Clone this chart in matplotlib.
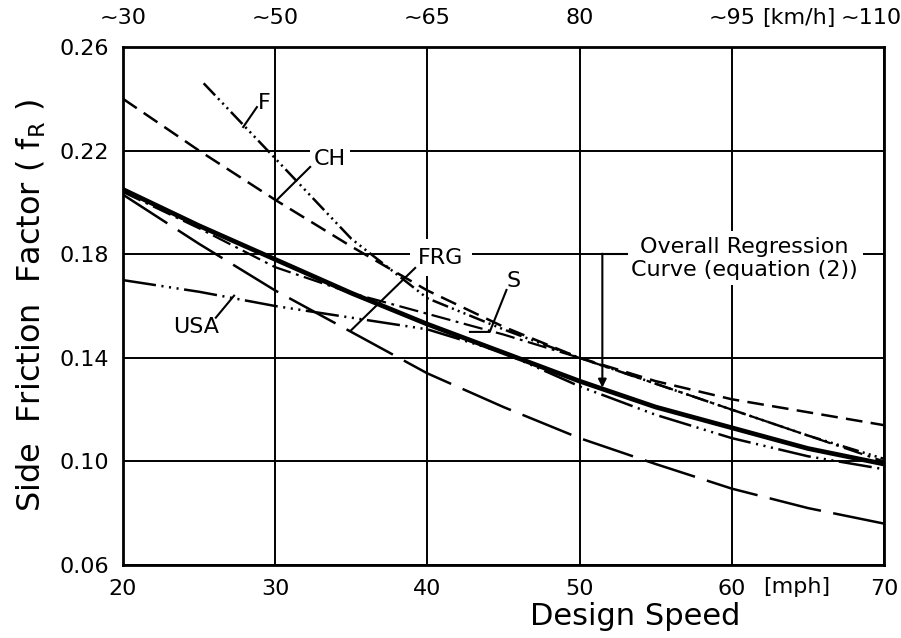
"""
Side friction factor against design speed: national design curves and
the overall regression curve (equation (2)).
"""

import matplotlib
matplotlib.use('Agg')
from matplotlib import pyplot as plt

# Data
speed = [20, 25, 30, 35, 40, 45, 50, 55, 60, 65, 70]
regression = [0.205, 0.191, 0.178, 0.165, 0.153, 0.142, 0.131, 0.121, 0.113, 0.105, 0.099]
ch = [0.240, 0.220, 0.201, 0.183, 0.166, 0.152, 0.140, 0.131, 0.124, 0.119, 0.114]
s_curve = [0.204, 0.190, 0.175, 0.165, 0.157, 0.149, 0.140, 0.130, 0.120, 0.110, 0.100]
usa = [0.170, 0.1655, 0.160, 0.1555, 0.151, 0.142, 0.129, 0.118, 0.109, 0.102, 0.097]
frg = [0.203, 0.184, 0.166, 0.150, 0.134, 0.121, 0.109, 0.099, 0.0895, 0.082, 0.076]
speed_f = [25.3, 30, 35, 40, 45, 50, 55, 60, 65, 70]
f_curve = [0.246, 0.217, 0.186, 0.163, 0.151, 0.140, 0.130, 0.120, 0.110, 0.101]

mph_ticks = [20, 30, 40, 50, 60, 70]
y_ticks = [0.06, 0.10, 0.14, 0.18, 0.22, 0.26]
kmh_labels = ['~30', '~50', '~65', '80', '~95', '~110']
kmh_pos = [20, 30, 40, 50, 60, 69.15]

plt.rcParams['lines.scale_dashes'] = False
plt.rcParams['font.family'] = ['DejaVu Sans']

fig = plt.figure(figsize=(9.01, 6.38), dpi=100)
ax = fig.add_axes([0.1365, 0.1144, 0.8445, 0.8119])

ax.plot(speed, regression, color='black', lw=3.4, solid_capstyle='butt', zorder=3)
ax.plot(speed, ch, color='black', lw=1.8, dashes=(12, 6), zorder=3)
ax.plot(speed_f, f_curve, color='black', lw=1.8, dashes=(12, 3, 1.5, 3, 1.5, 3, 1.5, 3), zorder=3)
ax.plot(speed, s_curve, color='black', lw=1.6, dashes=(14, 4, 2, 4), zorder=3)
ax.plot(speed, usa, color='black', lw=1.8, dashes=(24, 4, 1.5, 4, 1.5, 4, 1.5, 4), zorder=3)
ax.plot(speed, frg, color='black', lw=1.8, dashes=(38, 9), zorder=3)

ax.set_xlim(20, 70)
ax.set_ylim(0.06, 0.26)
ax.set_xticks(mph_ticks)
ax.set_yticks(y_ticks)
ax.set_yticklabels([f'{v:.2f}' for v in y_ticks])
ax.grid(True, color='black', lw=1.4)
ax.set_axisbelow(True)
for sp in ax.spines.values():
    sp.set_linewidth(2)
ax.tick_params(length=0, labelsize=16, pad=10)

# km/h equivalents along the top
for xp, lab in zip(kmh_pos, kmh_labels):
    ax.text(xp, 0.2712, lab, fontsize=16, ha='center', va='center', clip_on=False)
ax.text(64.4, 0.2712, '[km/h]', fontsize=16, ha='center', va='center', clip_on=False)
ax.text(64.3, 0.0515, '[mph]', fontsize=16, ha='center', va='center', clip_on=False)

ax.set_xlabel('Design Speed', fontsize=22)
ax.xaxis.set_label_coords(0.673, -0.072)
ax.set_ylabel('Side  Friction  Factor ( f$_\\mathregular{R}$ )', fontsize=23, labelpad=8)

# Curve labels with leader lines
box = dict(facecolor='white', edgecolor='none', pad=3)
ax.text(29.3, 0.2384, 'F', fontsize=16, ha='center', va='center', zorder=4)
ax.plot([28.8, 27.9], [0.2368, 0.2291], color='black', lw=1.5, zorder=5)

ax.text(33.6, 0.2167, 'CH', fontsize=16, ha='center', va='center', bbox=box, zorder=4)
ax.plot([32.3, 30.1], [0.2137, 0.2009], color='black', lw=1.5, zorder=5)

ax.text(40.9, 0.1787, 'FRG', fontsize=16, ha='center', va='center',
        bbox=dict(facecolor='white', edgecolor='none', pad=6), zorder=4)
ax.plot([39.2, 35.0], [0.1747, 0.1507], color='black', lw=1.5, zorder=5)

ax.text(45.65, 0.1697, 'S', fontsize=16, ha='center', va='center', zorder=4)
ax.plot([45.2, 44.1, 42.8], [0.1662, 0.1500, 0.1500], color='black', lw=1.5, zorder=5)

ax.text(24.8, 0.1519, 'USA', fontsize=16, ha='center', va='center', zorder=4)
ax.plot([26.1, 27.3], [0.1555, 0.1640], color='black', lw=1.5, zorder=5)

ax.text(60.8, 0.1785, 'Overall Regression\nCurve (equation (2))', fontsize=16,
        ha='center', va='center', linespacing=1.2,
        bbox=dict(facecolor='white', edgecolor='none', pad=4), zorder=4)
ax.plot([53.1, 51.5], [0.18, 0.18], color='black', lw=1.5, zorder=5)
ax.annotate('', xy=(51.5, 0.1285), xytext=(51.5, 0.1802),
            arrowprops=dict(arrowstyle='-|>', color='black', lw=1.5,
                            mutation_scale=12, shrinkA=0, shrinkB=0), zorder=5)

fig.savefig('out.png', dpi=100)
